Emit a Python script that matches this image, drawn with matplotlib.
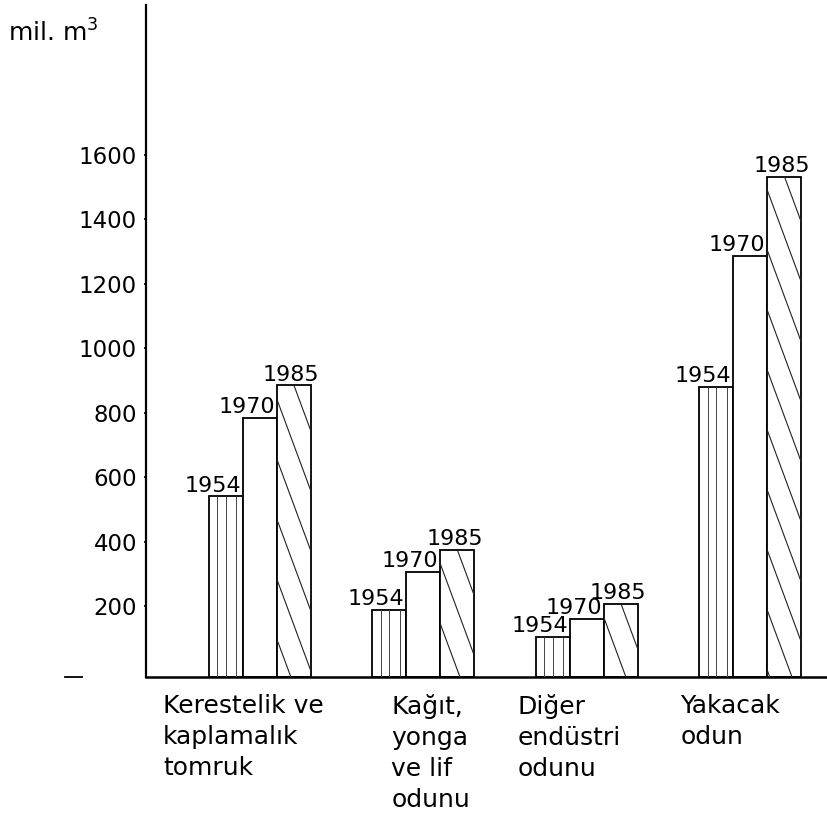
import matplotlib
matplotlib.use("Agg")
import matplotlib.pyplot as plt
import numpy as np

# ---- data ----
categories = ["Kerestelik ve\nkaplamalık\ntomruk",
              "Kağıt,\nyonga\nve lif\nodunu",
              "Diğer\nendüstri\nodunu",
              "Yakacak\nodun"]
years = ["1954", "1970", "1985"]
v1954 = [540, 188, 103, 880]
v1970 = [783, 305, 160, 1287]
v1985 = [885, 373, 207, 1533]
yticks = [200, 400, 600, 800, 1000, 1200, 1400, 1600]
ytick_labels = ["200", "400", "600", "800", "1000", "1200", "1400", "1600"]
unit_label = "mil. m$^3$"

# ---- style ----
plt.rcParams["font.family"] = ["DejaVu Sans"]
plt.rcParams["mathtext.fontset"] = "dejavusans"
W, H = 827, 817
fig = plt.figure(figsize=(W / 100, H / 100), dpi=100)
ax = fig.add_axes([146 / W, 140 / H, 681 / W, 672 / H])
base = -20.5
ax.set_ylim(base, 2066)
ax.set_xlim(-0.697, 3.468)

x = np.arange(len(categories))
w = 0.208
series = [v1954, v1970, v1985]
all_bars = []
for i, vals in enumerate(series):
    xs = x + (i - 1) * w
    heights = np.array(vals, dtype=float) - base
    bars = ax.bar(xs, heights, width=w, bottom=base, facecolor="white",
                  edgecolor="black", linewidth=1.3, zorder=2)
    all_bars.append(bars)

# vertical hatch on 1954 bars
for rect in all_bars[0]:
    x0 = rect.get_x()
    ww = rect.get_width()
    for f in (0.24, 0.5, 0.8):
        ax.vlines(x0 + f * ww, rect.get_y(), rect.get_y() + rect.get_height(),
                  color="#444444", linewidth=0.7, zorder=3)

# steep diagonal hatch on 1985 bars
inv = ax.transData.inverted()
for rect in all_bars[2]:
    x0d, y0d = rect.get_x(), rect.get_y()
    x1d, y1d = x0d + rect.get_width(), y0d + rect.get_height()
    px0, py0 = ax.transData.transform((x0d, y0d))
    px1, py1 = ax.transData.transform((x1d, y1d))
    wpx = px1 - px0
    slope = 2.7
    spacing = 60
    yl = py1 + 0.5 * slope * wpx
    while yl > py0:
        pts = inv.transform([[px0, yl], [px1, yl - slope * wpx]])
        ln, = ax.plot(pts[:, 0], pts[:, 1], color="#222222", lw=0.8, zorder=3)
        ln.set_clip_path(rect)
        yl -= spacing

# year labels above bars
for i, bars in enumerate(all_bars):
    for rect in bars:
        top = rect.get_y() + rect.get_height()
        if i < 2:
            xp = rect.get_x() + rect.get_width()
            ha = "right"
            dx = -1.5
        else:
            xp = rect.get_x() + rect.get_width() / 2
            ha = "center"
            dx = -2
        ax.annotate(years[i], xy=(xp, top), xytext=(dx, 3.5),
                    textcoords="offset points", ha=ha, va="baseline",
                    fontsize=16, zorder=4)

# category labels
label_offsets_px = [-97, -32, -69, -70]
for xi, cat, off in zip(x, categories, label_offsets_px):
    ax.annotate(cat, xy=(xi, base), xytext=(off * 0.72, -12),
                textcoords="offset points", ha="left", va="top",
                multialignment="left", linespacing=1.37, fontsize=18)

# axes styling
ax.set_yticks(yticks)
ax.set_yticklabels(ytick_labels, fontsize=16.5)
ax.set_xticks([])
ax.tick_params(axis="y", length=1.5, width=1.2, pad=5, direction="out")
for s in ("top", "right"):
    ax.spines[s].set_visible(False)
ax.spines["left"].set_linewidth(1.6)
ax.spines["bottom"].set_linewidth(1.8)

# small stray dash on the left at baseline level
ax.plot([-0.119, -0.094], [base, base], transform=ax.get_yaxis_transform(),
        clip_on=False, color="black", lw=1.3)

fig.text(8 / W, 1 - 42 / H, unit_label, fontsize=18, va="baseline", ha="left")

fig.savefig("out.png", dpi=100, facecolor="white")
